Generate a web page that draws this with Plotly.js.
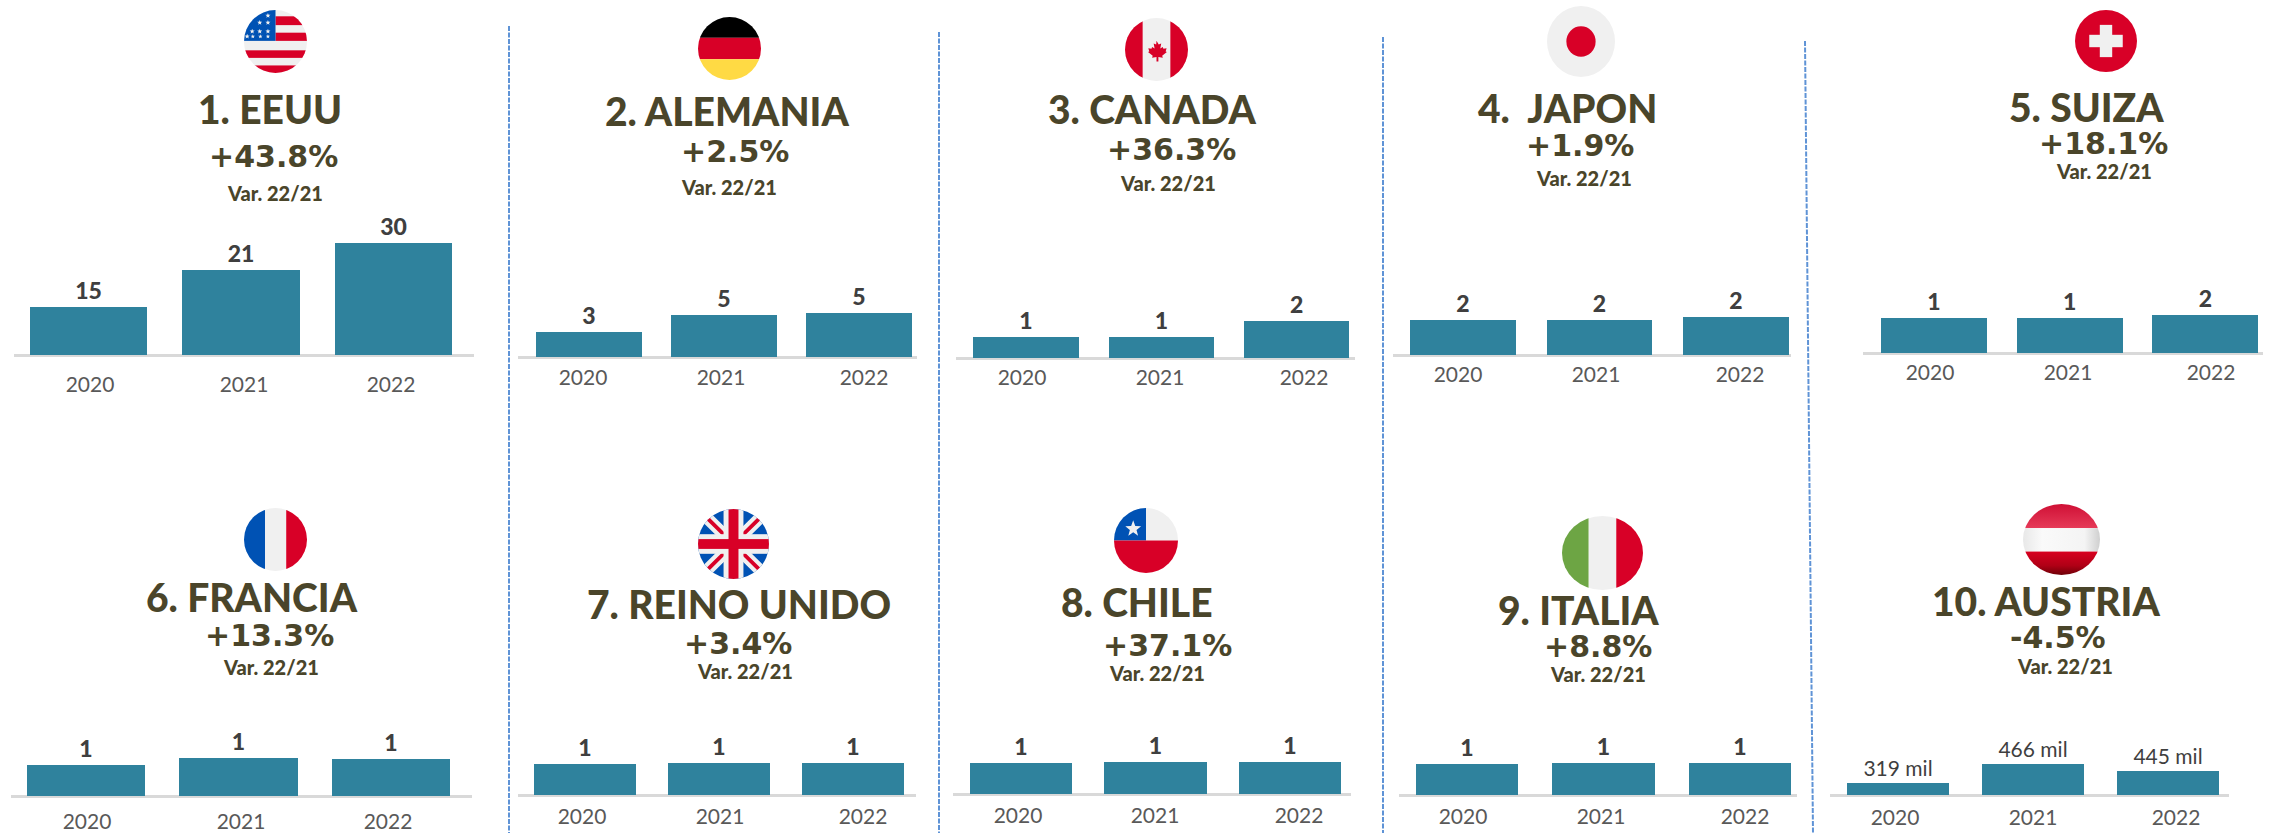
<!DOCTYPE html>
<html><head><meta charset="utf-8">
<script src="https://cdn.plot.ly/plotly-3.0.1.min.js"></script>
<style>html,body{margin:0;padding:0;background:#fff}#c{width:2272px;height:833px}</style>
</head><body><div id="c"></div>
<script>
const years=[2020,2021,2022];
const countries=['EEUU','ALEMANIA','CANADA','JAPON','SUIZA','FRANCIA','REINO UNIDO','CHILE','ITALIA','AUSTRIA'];
const ranks=['1.','2.','3.','4. ','5.','6.','7.','8.','9.','10.'];
const variations=['+43.8%','+2.5%','+36.3%','+1.9%','+18.1%','+13.3%','+3.4%','+37.1%','+8.8%','-4.5%'];
const varNote='Var. 22/21';
const valuesEEUU=[12.9,22.8,30];
const valuesAlemania=[2.9,4.9,5.1];
const valuesCanada=[0.85,0.85,1.5];
const valuesJapon=[1.8,1.8,1.95];
const valuesSuiza=[1.4,1.4,1.52];
const valuesFrancia=[1.0,1.23,1.19];
const valuesReino=[1.06,1.1,1.1];
const valuesChile=[1.06,1.1,1.1];
const valuesItalia=[1.1,1.14,1.14];
const valuesAustria=[185,466,361];
const labelsEEUU=['15','21','30'];
const labelsAlemania=['3','5','5'];
const labelsCanada=['1','1','2'];
const labelsJapon=['2','2','2'];
const labelsSuiza=['1','1','2'];
const labelsFrancia=['1','1','1'];
const labelsReino=['1','1','1'];
const labelsChile=['1','1','1'];
const labelsItalia=['1','1','1'];
const labelsAustria=['319 mil','466 mil','445 mil'];
const seriesValues=[valuesEEUU,valuesAlemania,valuesCanada,valuesJapon,valuesSuiza,valuesFrancia,valuesReino,valuesChile,valuesItalia,valuesAustria];
const seriesLabels=[labelsEEUU,labelsAlemania,labelsCanada,labelsJapon,labelsSuiza,labelsFrancia,labelsReino,labelsChile,labelsItalia,labelsAustria];

// ---- page geometry in pixels (layout only, no data) ----
const W=2272,H=833;
const COL={title:'#4a452a',bar:'#2f829d',axis:'#d9d9d9',tick:'#595959',val:'#3f3f3f',dash:'#5f93d6'};
const panels=[
 {l:14,r:474,base:355,top:243,c0:88.5,s:152.5,bw:.77,ticks:[90,244,391],ty:383,title:[270,109],pct:[273,157],note:[275,193]},
 {l:518,r:917,base:357,top:313,c0:589,s:135,bw:.78,ticks:[583,721,864],ty:376,title:[727,111],pct:[735,152],note:[729,187]},
 {l:956,r:1355,base:358,top:321,c0:1026,s:135.3,bw:.78,ticks:[1022,1160,1304],ty:376,title:[1152,109],pct:[1171,149],note:[1168,183]},
 {l:1393,r:1791,base:355,top:317,c0:1463,s:136.5,bw:.77,ticks:[1458,1596,1740],ty:373,title:[1567,108],pct:[1580,145],note:[1584,178]},
 {l:1863,r:2263,base:353,top:315,c0:1934,s:135.7,bw:.78,ticks:[1930,2068,2211],ty:371,title:[2086,107],pct:[2103,144],note:[2104,171]},
 {l:11,r:472,base:796,top:758,c0:86,s:152.5,bw:.78,ticks:[87,241,388],ty:820,title:[252,597],pct:[269,635],note:[271,667]},
 {l:518,r:916,base:795,top:763,c0:585,s:134,bw:.76,ticks:[582,720,863],ty:815,title:[739,604],pct:[738,643],note:[745,671]},
 {l:953,r:1351,base:794,top:762,c0:1021,s:134.5,bw:.76,ticks:[1018,1155,1299],ty:814,title:[1137,602],pct:[1167,645],note:[1157,673]},
 {l:1399,r:1797,base:795,top:763,c0:1467,s:136.5,bw:.75,ticks:[1463,1601,1745],ty:815,title:[1578,610],pct:[1598,646],note:[1598,674]},
 {l:1830,r:2229,base:795,top:764,c0:1898,s:135,bw:.75,ticks:[1895,2033,2176],ty:816,title:[2046,601],pct:[2058,637],note:[2065,666]}
];
const dashes=[[509,26,509,833],[939,32,939,833],[1383,37,1383,833],[1805,41,1813,833]];
const LOW=1; // extra pixels under the zero line inside each subplot
const TICK_K=17;

// ---- flags as inline svg ----
const R='#d80027',Wh='#f0f0f0',B='#0052b4';
function wrap(inner,defs){return `<svg xmlns="http://www.w3.org/2000/svg" width="200" height="200" viewBox="0 0 100 100" preserveAspectRatio="none"><defs><clipPath id="k"><circle cx="50" cy="50" r="50"/></clipPath>${defs||''}</defs><g clip-path="url(#k)">${inner}</g></svg>`;}
function star(cx,cy,r,f){let p=[];for(let i=0;i<10;i++){const a=-Math.PI/2+i*Math.PI/5,q=i%2?r*.42:r;p.push((cx+q*Math.cos(a)).toFixed(2)+','+(cy+q*Math.sin(a)).toFixed(2));}return `<polygon points="${p.join(' ')}" fill="${f}"/>`;}
const rect=(x,y,w,h,f)=>`<rect x="${x}" y="${y}" width="${w}" height="${h}" fill="${f}"/>`;
const usStars=[[38,9],[25,20],[38,20],[13,34],[25,34],[38,34],[5,42]].map(p=>star(p[0],p[1],4.2,Wh)).join('')+[[14,43],[26,43],[38,43]].map(p=>star(p[0],p[1]-1,3.6,Wh)).join('');
const flags=[
 wrap(rect(0,0,100,100,Wh)+rect(50,10,50,14,R)+rect(50,36,50,13,R)+rect(0,64,100,12,R)+rect(0,88,100,12,R)+rect(0,0,50,49,B)+usStars),
 wrap(rect(0,0,100,33,'#000')+rect(0,33,100,34,R)+rect(0,67,100,33,'#ffda44')),
 wrap(rect(0,0,100,100,Wh)+rect(0,0,28,100,R)+rect(72,0,28,100,R)+`<path d="M50 36l3.5 6 4-1.5-1.5 8 4-2.5 1 3 5-1-1.5 5 2 1-7.5 6 1 3-7-1v7h-3v-7l-7 1 1-3-7.5-6 2-1-1.5-5 5 1 1-3 4 2.5-1.5-8 4 1.5z" fill="${R}"/>`),
 wrap(rect(0,0,100,100,Wh)+`<circle cx="50" cy="50" r="21.5" fill="${R}"/>`),
 wrap(rect(0,0,100,100,R)+rect(40,24,20,52,Wh)+rect(23,40,54,20,Wh)),
 wrap(rect(0,0,33.5,100,B)+rect(33.5,0,33.5,100,Wh)+rect(67,0,33,100,R)),
 wrap(rect(0,0,100,100,B)+`<path d="M0 0L100 100M100 0L0 100" stroke="${Wh}" stroke-width="17"/><path d="M12 12L40 40M88 12L60 40M12 88L40 60M88 88L60 60" stroke="${R}" stroke-width="5.5"/>`+rect(36,0,28,100,Wh)+rect(0,36,100,28,Wh)+rect(43,0,14,100,R)+rect(0,43,100,14,R)),
 wrap(rect(0,0,100,50,Wh)+rect(0,0,50,50,B)+rect(0,50,100,50,R)+star(30,32,13,Wh)),
 wrap(rect(0,0,33,100,'#6da544')+rect(33,0,34,100,Wh)+rect(67,0,33,100,R)),
 wrap(rect(0,0,100,34,'url(#a1)')+rect(0,34,100,33,'url(#a2)')+rect(0,67,100,33,'url(#a3)'),
  `<linearGradient id="a1" x1="0" y1="0" x2="0" y2="1"><stop offset="0" stop-color="#cf1035"/><stop offset="1" stop-color="#e63a58"/></linearGradient><linearGradient id="a2" x1="0" y1="0" x2="1" y2="0"><stop offset="0" stop-color="#e8e8e8"/><stop offset=".25" stop-color="#fafafa"/><stop offset=".8" stop-color="#f4f4f4"/><stop offset="1" stop-color="#cfcfcf"/></linearGradient><linearGradient id="a3" x1="0" y1="0" x2="0" y2="1"><stop offset="0" stop-color="#d8001f"/><stop offset=".6" stop-color="#b00016"/><stop offset="1" stop-color="#6e0008"/></linearGradient>`)
];
const flagBoxes=[[244,10,63,63],[698,17,63,63],[1125,18,63,63],[1547,6,68,71],[2075,10,62,62],[244,508,63,63],[698,509,71,70],[1114,508,64,65],[1562,516,81,74],[2023,504,77,71]];

// ---- build ----
const px=x=>x/W, py=y=>1-y/H;
const layout={width:W,height:H,margin:{l:0,r:0,t:0,b:0},paper_bgcolor:'#fff',plot_bgcolor:'rgba(0,0,0,0)',showlegend:false,bargap:0,annotations:[],images:[],shapes:[]};
const traces=[];
panels.forEach((p,i)=>{
  const n=i+1, xn=n===1?'x':'x'+n, yn=n===1?'y':'y'+n, xk=n===1?'xaxis':'xaxis'+n, yk=n===1?'yaxis':'yaxis'+n;
  const vals=seriesValues[i], mx=Math.max(...vals), k=(p.base-p.top)/mx;
  traces.push({type:'bar',x:years,y:vals,xaxis:xn,yaxis:yn,width:p.bw,marker:{color:COL.bar,line:{width:0}},
    text:seriesLabels[i],textposition:'outside',cliponaxis:false,
    textfont:{family:'Lato',size:i===9?21:23,weight:i===9?400:900,color:COL.val},hoverinfo:'skip'});
  const x0=years[0]+(p.l-p.c0)/p.s, x1=years[0]+(p.r-p.c0)/p.s;
  layout[xk]={anchor:yn,domain:[px(p.l),px(p.r)],type:'linear',range:[x0,x1],showgrid:false,zeroline:false,showline:false,
    tickmode:'array',tickvals:p.ticks.map(t=>years[0]+(t-p.c0)/p.s),ticktext:years.map(String),ticks:'outside',ticklen:Math.max(0,p.ty-p.base-LOW-TICK_K),tickwidth:0,tickcolor:'rgba(0,0,0,0)',
    tickfont:{family:'Lato',size:21,color:COL.tick},tickangle:0,fixedrange:true};
  layout[yk]={anchor:xn,domain:[py(p.base+LOW),py(p.top)],type:'linear',range:[-LOW/k,mx],showgrid:false,zeroline:true,zerolinecolor:COL.axis,zerolinewidth:3,showline:false,ticks:'',showticklabels:false,fixedrange:true};
  const ann=(xy,text,size,weight,family)=>layout.annotations.push({xref:'paper',yref:'paper',x:px(xy[0]),y:py(xy[1]),xanchor:'center',yanchor:'middle',showarrow:false,text,font:{family,size,weight,color:COL.title}});
  ann(p.title,ranks[i]+' '+countries[i],39,900,'Lato');
  ann(p.pct,variations[i],30,700,'DejaVu Sans');
  ann(p.note,varNote,20,900,'Lato');
  const f=flagBoxes[i];
  layout.images.push({source:'data:image/svg+xml;base64,'+btoa(flags[i]),xref:'paper',yref:'paper',x:px(f[0]),y:py(f[1]),sizex:f[2]/W,sizey:f[3]/H,xanchor:'left',yanchor:'top',sizing:'stretch',layer:'above'});
});
dashes.forEach(d=>layout.shapes.push({type:'line',xref:'paper',yref:'paper',x0:px(d[0]),y0:py(d[1]),x1:px(d[2]),y1:py(d[3]),line:{color:COL.dash,width:2,dash:'5px,1.5px'}}));
Plotly.newPlot('c',traces,layout,{displayModeBar:false,staticPlot:true,responsive:false});
</script></body></html>
